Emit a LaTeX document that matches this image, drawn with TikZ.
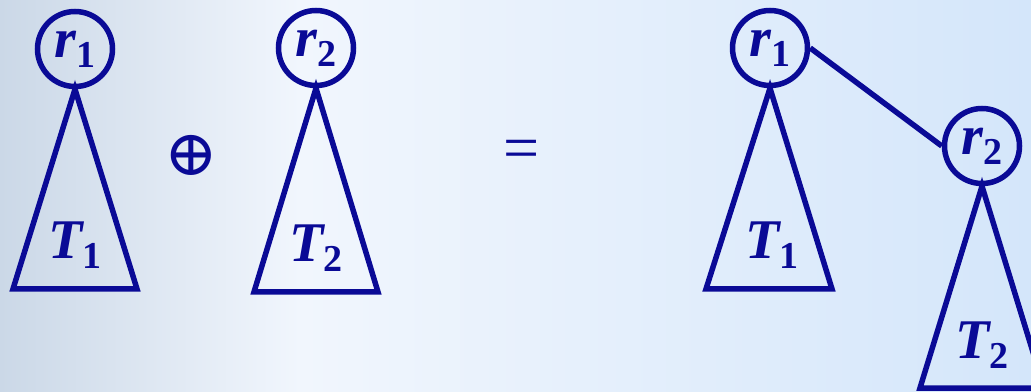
\documentclass[tikz,border=0pt]{standalone}
\usepackage{fontspec}
\setmainfont{Liberation Serif}
\newfontfamily\symfont{DejaVu Serif}
\usetikzlibrary{positioning}
\definecolor{TreeInk}{HTML}{0A0A96}
\definecolor{SlideLeft}{HTML}{CBD8E7}
\definecolor{SlideMid}{HTML}{F1F6FD}
\definecolor{SlideRight}{HTML}{D4E6FA}
\newcommand{\sublbl}[2]{{\bfseries\itshape #1}\raisebox{-10pt}{\fontsize{38}{44}\selectfont\bfseries\upshape #2}}

\begin{document}
\begin{tikzpicture}[
      x=1pt,y=1pt,
      font=\fontsize{56}{64}\selectfont,
      rootnode/.style={draw=TreeInk,circle,line width=5.5pt,minimum size=75pt,inner sep=0pt,text=TreeInk},
      tri/.style={draw=TreeInk,line width=5.5pt,line join=miter},
      lbl/.style={text=TreeInk,inner sep=0pt},
      link/.style={draw=TreeInk,line width=5.5pt}
    ]
      \useasboundingbox (0,0) rectangle (1031,391);
      \clip (0,0) rectangle (1031,391);
      \shade[left color=SlideLeft,right color=SlideMid] (0,0) rectangle (300,391);
      \shade[left color=SlideMid,right color=SlideRight] (300,0) rectangle (1031,391);
      \node[rootnode] (ra) at (75,342) {\sublbl{r}{1}};
      \node[lbl] (ta) at (75,146) {\sublbl{T}{1}};
      \draw[tri] (ra.south) -- (13,102) -- (137,102) -- cycle;
      \node[lbl] (plus) at (191,236) {\symfont\fontsize{64}{70}\selectfont ⊕};
      \node[rootnode] (rb) at (316,343) {\sublbl{r}{2}};
      \node[lbl] (tb) at (316,143) {\sublbl{T}{2}};
      \draw[tri] (rb.south) -- (254,99) -- (378,99) -- cycle;
      \node[lbl] (eq) at (522,236) {\fontsize{64}{70}\selectfont =};
      \node[rootnode] (rc) at (770,343) {\sublbl{r}{1}};
      \node[lbl] (tc) at (772,146) {\sublbl{T}{1}};
      \draw[tri] (rc.south) -- (706,102) -- (832,102) -- cycle;
      \node[rootnode] (rd) at (982,245) {\sublbl{r}{2}};
      \node[lbl] (td) at (982,46) {\sublbl{T}{2}};
      \draw[tri] (rd.south) -- (920,3) -- (1044,3) -- cycle;
      \draw[link] (rc.east) -- (rd.west);
    \end{tikzpicture}
\end{document}
